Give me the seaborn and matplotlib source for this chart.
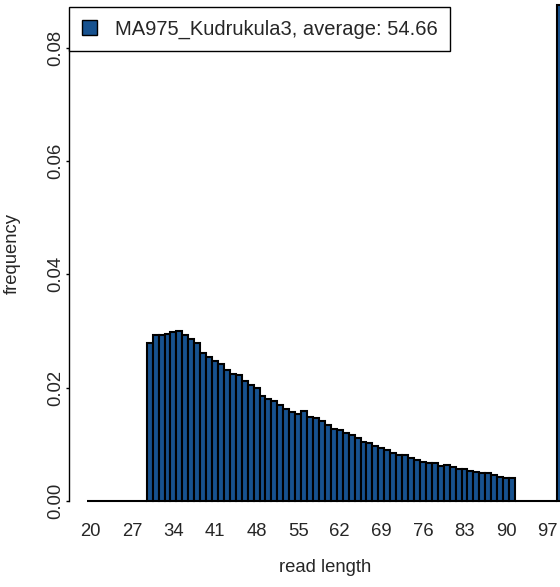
import matplotlib
matplotlib.use("Agg")
import matplotlib.pyplot as plt
from matplotlib.patches import Patch
import seaborn as sns
import pandas as pd

sns.set_style("white")
plt.rcParams["font.family"] = ["Liberation Sans", "DejaVu Sans"]

sample_name = "MA975_Kudrukula3"
average_length = 54.66

# read lengths 20..99 (99 collects the longest reads)
read_lengths = list(range(20, 100))
frequency = [
    # 20-29
    0, 0, 0, 0, 0, 0, 0, 0, 0, 0,
    # 30-39
    0.02792, 0.02922, 0.02928, 0.02940, 0.02980, 0.02990, 0.02928, 0.02857, 0.02792, 0.02615,
    # 40-49
    0.02534, 0.02474, 0.02416, 0.02315, 0.02239, 0.02221, 0.02115, 0.02045, 0.01992, 0.01850,
    # 50-59
    0.01797, 0.01756, 0.01686, 0.01620, 0.01567, 0.01537, 0.01590, 0.01479, 0.01467, 0.01414,
    # 60-69
    0.01343, 0.01262, 0.01244, 0.01191, 0.01156, 0.01113, 0.01043, 0.01025, 0.00967, 0.00931,
    # 70-79
    0.00901, 0.00838, 0.00813, 0.00808, 0.00755, 0.00719, 0.00689, 0.00666, 0.00660, 0.00618,
    # 80-89
    0.00631, 0.00590, 0.00560, 0.00566, 0.00530, 0.00507, 0.00495, 0.00495, 0.00449, 0.00424,
    # 90-99
    0.00406, 0.00396, 0, 0, 0, 0, 0, 0, 0, 0.08760,
]
x_tick_labels = [str(v) for v in range(20, 98, 7)]
y_ticks = [0.00, 0.02, 0.04, 0.06, 0.08]

bar_color = "#17528F"
fs = 13.3

df = pd.DataFrame({"length": [str(v) for v in read_lengths], "freq": frequency})

fig = plt.figure(figsize=(5.6, 5.87), dpi=100)
ax = fig.add_axes([69.3 / 560, 86.3 / 587, (560 - 69.3) / 560, (500.7 - 7) / 587])

sns.barplot(data=df, x="length", y="freq", color=bar_color, saturation=1,
            width=1.0, edgecolor="black", linewidth=1.5, ax=ax)
for p in ax.patches:
    p.set_clip_on(False)

ax.set_xlim(-3.53, 79.08)
ax.set_ylim(0, 0.08724)

for side in ["top", "right", "bottom"]:
    ax.spines[side].set_visible(False)
ax.spines["left"].set_bounds(0, 0.08)
ax.spines["left"].set_linewidth(1.0)
ax.spines["left"].set_color("black")

idx = [read_lengths.index(int(t)) for t in x_tick_labels]
ax.set_xticks(idx)
ax.set_xticklabels(x_tick_labels, fontsize=fs)
ax.tick_params(axis="x", length=0, pad=16)

ax.set_yticks(y_ticks)
ax.set_yticklabels([f"{v:.2f}" for v in y_ticks], fontsize=fs)
ax.tick_params(axis="y", left=True, length=2.5, width=1.0, color="black", pad=1)
for lab in ax.get_yticklabels():
    lab.set_rotation(90)
    lab.set_va("center")

ax.set_xlabel("read length", fontsize=fs)
ax.xaxis.set_label_coords(0.521, -0.118)
ax.set_ylabel("frequency", fontsize=fs)
ax.yaxis.set_label_coords(-0.098, 0.5)

handle = Patch(facecolor=bar_color, edgecolor="black", linewidth=1.0)
leg = ax.legend([handle], [f"{sample_name}, average: {average_length:.2f}"],
                loc="upper left", bbox_to_anchor=(0, 1), borderaxespad=0,
                fontsize=14.5, fancybox=False, framealpha=1, edgecolor="black",
                handlelength=0.75, handleheight=0.75, handletextpad=0.9,
                borderpad=0.62, facecolor="white")
leg.get_frame().set_linewidth(1.0)

fig.savefig("out.png", dpi=100)
